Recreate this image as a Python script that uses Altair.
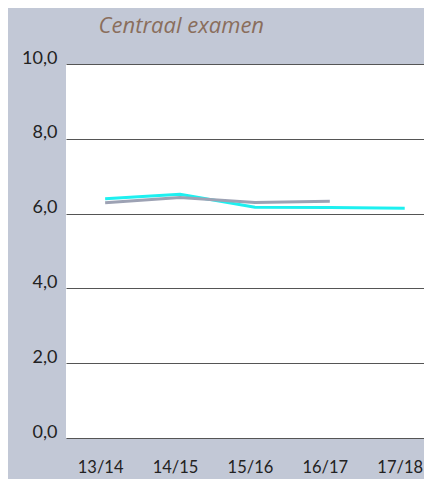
import altair as alt
import pandas as pd

years = ["13/14", "14/15", "15/16", "16/17", "17/18"]
cyan_vals = [6.40, 6.52, 6.17, 6.16, 6.14]
grey_vals = [6.29, 6.43, 6.30, 6.33, None]
series_names = ["school", "landelijk"]

rows = []
for y, v in zip(years, cyan_vals):
    rows.append({"jaar": y, "cijfer": v, "reeks": series_names[0]})
for y, v in zip(years, grey_vals):
    if v is not None:
        rows.append({"jaar": y, "cijfer": v, "reeks": series_names[1]})
df = pd.DataFrame(rows)

chart = alt.Chart(df).mark_line(strokeWidth=3).encode(
    x=alt.X("jaar:O", sort=years,
            scale=alt.Scale(type="point", padding=0.39, align=0.67),
            axis=alt.Axis(title=None, labelAngle=0, domain=False, ticks=False, grid=False,
                          labelPadding=21, labelFontSize=16.5, labelFont="Lato",
                          labelOffset=-5,
                          labelColor="#222222", labelBaseline="top")),
    y=alt.Y("cijfer:Q", scale=alt.Scale(domain=[0, 10]),
            axis=alt.Axis(title=None, values=[0, 2, 4, 6, 8, 10], domain=False, ticks=False,
                          grid=True, gridColor="#555555", gridWidth=1.2, gridOpacity=1,
                          labelExpr="replace(format(datum.value, '.1f'), '.', ',')",
                          labelBaseline="alphabetic", labelOffset=-1,
                          labelPadding=9, labelFontSize=18, labelFont="Lato",
                          labelColor="#222222")),
    color=alt.Color("reeks:N", scale=alt.Scale(domain=series_names, range=["#1EF0F0", "#9DA2B4"]),
                    legend=None),
    order=alt.Order("reeks:N", sort="descending"),
).properties(
    width=358,
    height=374,
    title=alt.TitleParams("Centraal examen", anchor="start", dx=77, offset=11,
                          font="Open Sans", fontStyle="italic", fontWeight="normal",
                          fontSize=22, color="#8A6E5C"),
    autosize=alt.AutoSizeParams(type="none"),
    padding={"left": 58, "top": 56, "right": 0, "bottom": 41},
    background="#C2C8D6",
).configure_view(fill="white", stroke=None)

chart.save("out.html", embed_options={"renderer": "svg", "actions": False})
